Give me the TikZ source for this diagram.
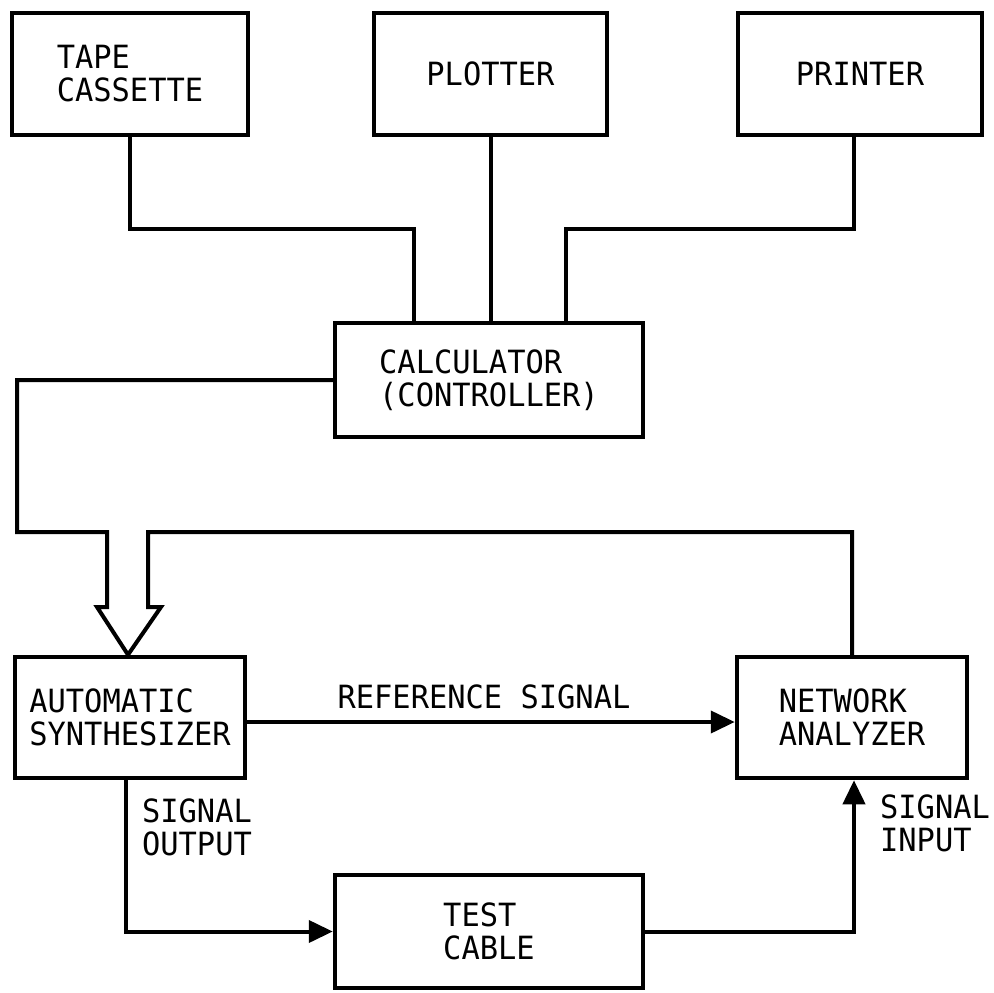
\documentclass[tikz,border=0pt]{standalone}
\usepackage{fontspec}
\newfontfamily\typefont[FakeStretch=0.95]{DejaVu Sans Mono}
\usetikzlibrary{arrows.meta}
\begin{document}
\begin{tikzpicture}[x=1pt,y=-1pt,
  every node/.style={font=\typefont\fontsize{32}{33}\selectfont},
  box/.style={draw,line width=4.5pt,align=left,inner sep=0pt},
  wire/.style={line width=4pt,line join=miter},
  sig/.style={wire,-{Triangle[length=24pt,width=22pt]}},
  lbl/.style={align=left,inner sep=0pt}]
\useasboundingbox (0,0) rectangle (994,993);

% equipment blocks
\node[box,minimum width=236pt,minimum height=122pt] (tape) at (130,74) {TAPE\\CASSETTE};
\node[box,minimum width=233pt,minimum height=122pt] (plotter) at (490.5,74) {PLOTTER};
\node[box,minimum width=244pt,minimum height=122pt] (printer) at (860,74) {PRINTER};
\node[box,minimum width=308pt,minimum height=114pt] (calc) at (489,380) {CALCULATOR\\(CONTROLLER)};
\node[box,minimum width=230pt,minimum height=121pt] (synth) at (130,717.5) {AUTOMATIC\\SYNTHESIZER};
\node[box,minimum width=230pt,minimum height=121pt] (na) at (852,717.5) {NETWORK\\ANALYZER};
\node[box,minimum width=308pt,minimum height=113pt] (cable) at (489,931.5) {TEST\\CABLE};

% peripherals to calculator
\draw[wire] (tape.south) -- ++(0,92) -| ([xshift=-75pt]calc.north);
\draw[wire] (plotter.south) -- (plotter.south |- calc.north);
\draw[wire] ([xshift=-6pt]printer.south) -- ++(0,92) -| ([xshift=77pt]calc.north);

% control bus (hollow arrow) and analyzer return line
\draw[wire] (calc.west) -| (17,532) -- (107,532) -- (107,607) -- (97,607)
  -- ([xshift=-2pt]synth.north) -- (161,607) -- (148,607) -- (148,532)
  -| (na.north);

% signal paths
\draw[sig] ([yshift=-4.5pt]synth.east) -- ([yshift=-4.5pt]na.west);
\draw[sig] ([xshift=-4pt]synth.south) |- (cable.west);
\draw[sig] (cable.east) -| ([xshift=2pt]na.south);

% labels
\node[lbl] (reflabel) at (484,697) {REFERENCE SIGNAL};
\node[lbl] (outlabel) at (197,827) {SIGNAL\\OUTPUT};
\node[lbl] (inlabel) at (935,823) {SIGNAL\\INPUT};
\end{tikzpicture}
\end{document}
